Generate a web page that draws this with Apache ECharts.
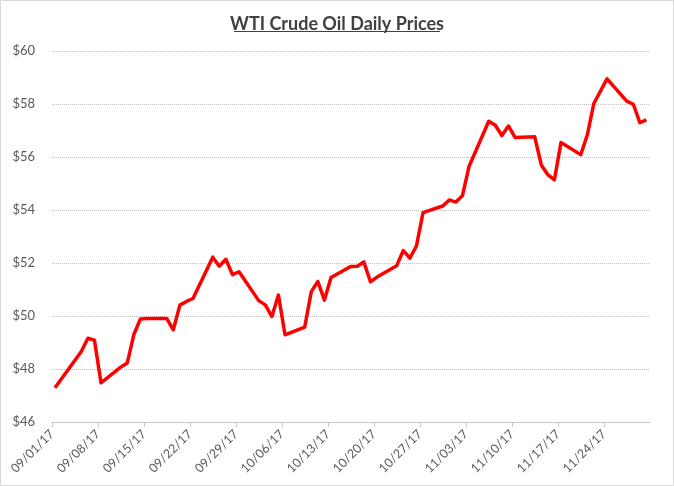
<!DOCTYPE html>
<html>
<head>
<meta charset="utf-8">
<script src="https://cdn.jsdelivr.net/npm/echarts@6/dist/echarts.min.js"></script>
<style>
html,body{margin:0;padding:0;background:#fff;}
#c{width:674px;height:486px;}
</style>
</head>
<body>
<div id="c"></div>
<script>
const title = 'WTI Crude Oil Daily Prices';
const dates = [
  '2017-09-01','2017-09-05','2017-09-06','2017-09-07','2017-09-08',
  '2017-09-11','2017-09-12','2017-09-13','2017-09-14','2017-09-15',
  '2017-09-18','2017-09-19','2017-09-20','2017-09-21','2017-09-22',
  '2017-09-25','2017-09-26','2017-09-27','2017-09-28','2017-09-29',
  '2017-10-02','2017-10-03','2017-10-04','2017-10-05','2017-10-06',
  '2017-10-09','2017-10-10','2017-10-11','2017-10-12','2017-10-13',
  '2017-10-16','2017-10-17','2017-10-18','2017-10-19','2017-10-20',
  '2017-10-23','2017-10-24','2017-10-25','2017-10-26','2017-10-27',
  '2017-10-30','2017-10-31','2017-11-01','2017-11-02','2017-11-03',
  '2017-11-06','2017-11-07','2017-11-08','2017-11-09','2017-11-10',
  '2017-11-13','2017-11-14','2017-11-15','2017-11-16','2017-11-17',
  '2017-11-20','2017-11-21','2017-11-22','2017-11-24',
  '2017-11-27','2017-11-28','2017-11-29','2017-11-30'
];
const prices = [
  47.29,48.66,49.16,49.09,47.48,
  48.07,48.23,49.30,49.89,49.91,
  49.91,49.48,50.41,50.55,50.66,
  52.22,51.88,52.14,51.56,51.67,
  50.58,50.42,49.98,50.79,49.29,
  49.58,50.92,51.30,50.60,51.45,
  51.87,51.88,52.04,51.29,51.47,
  51.90,52.47,52.18,52.64,53.90,
  54.15,54.38,54.30,54.54,55.64,
  57.35,57.20,56.81,57.17,56.74,
  56.76,55.70,55.33,55.14,56.55,
  56.09,56.83,58.02,58.95,
  58.11,57.99,57.30,57.40
];
const axisStart = '2017-09-01';
const axisEnd = '2017-12-01';
const yTicks = [46, 48, 50, 52, 54, 56, 58, 60];

const DAY = 86400000;
const t0 = Date.parse(axisStart + 'T00:00:00Z');
const tEnd = Date.parse(axisEnd + 'T00:00:00Z');
const spanDays = (tEnd - t0) / DAY;
// points plotted at mid-day
const seriesData = dates.map((d, i) => [(Date.parse(d + 'T11:00:00Z') - t0) / DAY, prices[i]]);

function fmtDay(v) {
  const dt = new Date(t0 + v * DAY);
  const mm = String(dt.getUTCMonth() + 1).padStart(2, '0');
  const dd = String(dt.getUTCDate()).padStart(2, '0');
  const yy = String(dt.getUTCFullYear()).slice(2);
  return mm + '/' + dd + '/' + yy;
}

const chart = echarts.init(document.getElementById('c'), null, {renderer: 'canvas'});
chart.setOption({
  backgroundColor: '#fff',
  animation: false,
  title: {
    text: title,
    left: 'center',
    top: 10,
    textStyle: {fontFamily: 'Lato', fontSize: 18, fontWeight: 'bold', color: '#404040'}
  },
  graphic: [
    {type: 'rect', shape: {x: 0.5, y: 0.5, width: 673, height: 485},
     style: {fill: 'none', stroke: '#d9d9d9', lineWidth: 1}, silent: true},
    {type: 'line', shape: {x1: 234, y1: 31.5, x2: 440, y2: 31.5},
     style: {stroke: '#404040', lineWidth: 1}, silent: true}
  ],
  grid: {left: 52, top: 51, width: 598, height: 371, containLabel: false},
  xAxis: {
    type: 'value',
    min: 0,
    max: spanDays,
    interval: 7,
    axisLine: {show: true, lineStyle: {color: '#c8c8c8', width: 1}},
    axisTick: {show: true, length: 5, lineStyle: {color: '#c8c8c8'}},
    splitLine: {show: false},
    axisLabel: {
      rotate: 45,
      margin: 10,
      fontFamily: 'Lato',
      fontSize: 12.5,
      color: '#595959',
      showMaxLabel: false,
      formatter: v => fmtDay(v)
    }
  },
  yAxis: {
    type: 'value',
    min: yTicks[0],
    max: yTicks[yTicks.length - 1],
    interval: 2,
    axisLine: {show: false},
    axisTick: {show: false},
    splitLine: {show: true, lineStyle: {color: '#c0c0c0', type: [1, 1], width: 1}},
    axisLabel: {
      margin: 17,
      fontFamily: 'Lato',
      fontSize: 13,
      color: '#595959',
      formatter: v => '$' + v
    }
  },
  series: [{
    type: 'line',
    data: seriesData,
    showSymbol: false,
    symbol: 'none',
    lineStyle: {color: '#ff0000', width: 3.5, join: 'round'},
    z: 5
  }]
});
</script>
</body>
</html>
